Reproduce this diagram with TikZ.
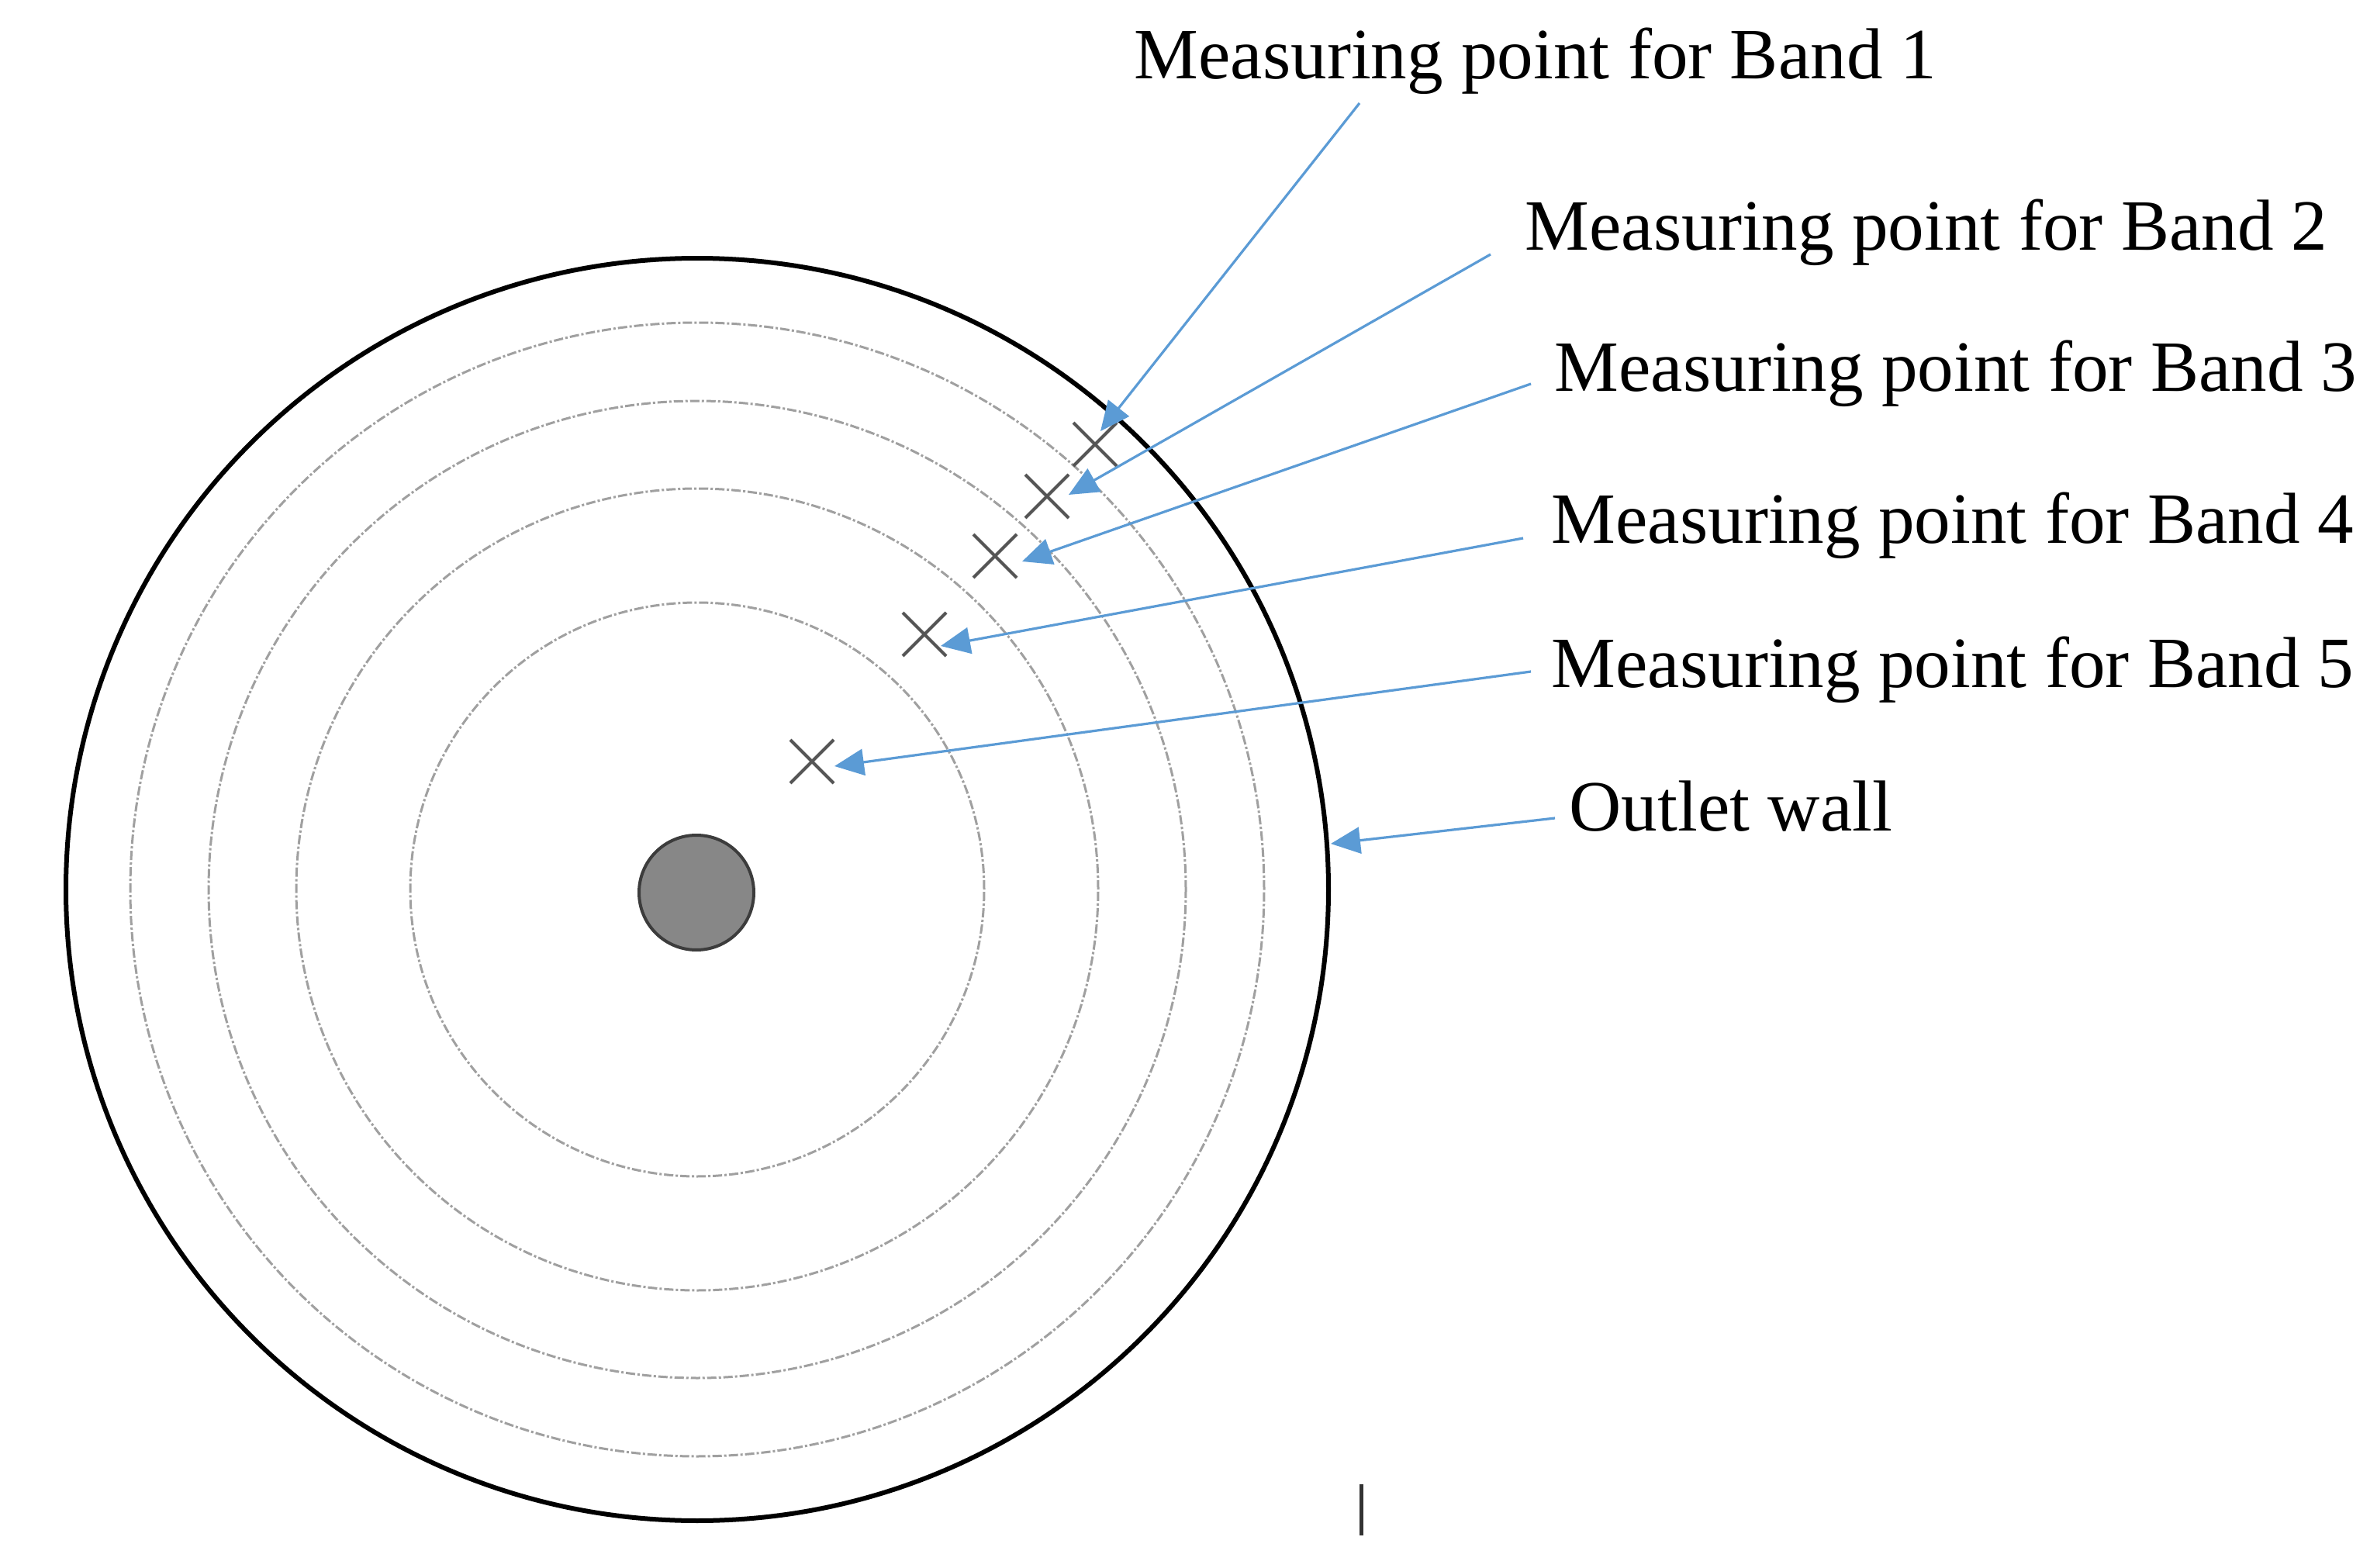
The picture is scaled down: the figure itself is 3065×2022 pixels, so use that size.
\documentclass[tikz,border=0pt]{standalone}
\usepackage{fontspec}
\setmainfont{Liberation Serif}
\usetikzlibrary{arrows.meta,shapes.misc}
\definecolor{arrowblue}{RGB}{91,155,213}
\definecolor{bandgray}{RGB}{160,160,160}
\definecolor{crossgray}{RGB}{85,85,85}
\definecolor{hubfill}{RGB}{135,135,135}
\definecolor{hubedge}{RGB}{60,60,60}
\definecolor{tickgray}{RGB}{51,51,51}
\begin{document}
\begin{tikzpicture}[x=0.1mm,y=-0.1mm,
  wall/.style={draw=black,line width=0.6mm},
  band/.style={draw=bandgray,line width=0.3mm,dash pattern=on 1.2mm off 0.3mm on 0.3mm off 0.3mm},
  xnode/.style={cross out,draw=crossgray,line width=0.4mm,minimum size=5.2mm,inner sep=0pt},
  pointer/.style={draw=arrowblue,line width=0.32mm,-{Triangle[length=3.8mm,width=3.4mm]}},
  lbl/.style={anchor=base west,inner sep=0pt,font=\fontsize{26.5}{30}\selectfont}]
\useasboundingbox (0,0) rectangle (3065,2022);
\fill[white] (0,0) rectangle (3065,2022);
% outlet and bands
\coordinate (c) at (899,1147);
\draw[wall] (c) circle[radius=81.4mm];
\foreach \r in {73.1,63.0,51.7,37.0} \draw[band] (c) circle[radius=\r mm];
\coordinate (hub) at (898,1151);
\draw[fill=hubfill,draw=hubedge,line width=0.4mm] (hub) circle[radius=7.4mm];
% measuring points
\node[xnode] (x1) at (1412,573) {};
\node[xnode] (x2) at (1350,640) {};
\node[xnode] (x3) at (1283,717) {};
\node[xnode] (x4) at (1192,818) {};
\node[xnode] (x5) at (1047,982) {};
% labels
\node[lbl] (l1) at (1462,102) {Measuring point for Band 1};
\node[lbl] (l2) at (1966,323) {Measuring point for Band 2};
\node[lbl] (l3) at (2004,504) {Measuring point for Band 3};
\node[lbl] (l4) at (2000,700) {Measuring point for Band 4};
\node[lbl] (l5) at (2000,886) {Measuring point for Band 5};
\node[lbl] (l6) at (2023,1071) {Outlet wall};
% arrow ends
\coordinate (s1) at (1753,133);  \coordinate (t1) at (1419,556);
\coordinate (s2) at (1922,328);  \coordinate (t2) at (1378,638);
\coordinate (s3) at (1974,495);  \coordinate (t3) at (1318,724);
\coordinate (s4) at (1964,694);  \coordinate (t4) at (1213,833);
\coordinate (s5) at (1974,866);  \coordinate (t5) at (1076,988);
\coordinate (s6) at (2005,1055); \coordinate (t6) at (1716,1088);
\foreach \i in {1,...,6} \draw[pointer] (s\i) -- (t\i);
% small tick at bottom
\coordinate (m1) at (1755,1914);
\coordinate (m2) at (1755,1980);
\draw[draw=tickgray,line width=0.5mm] (m1) -- (m2);
\end{tikzpicture}
\end{document}
